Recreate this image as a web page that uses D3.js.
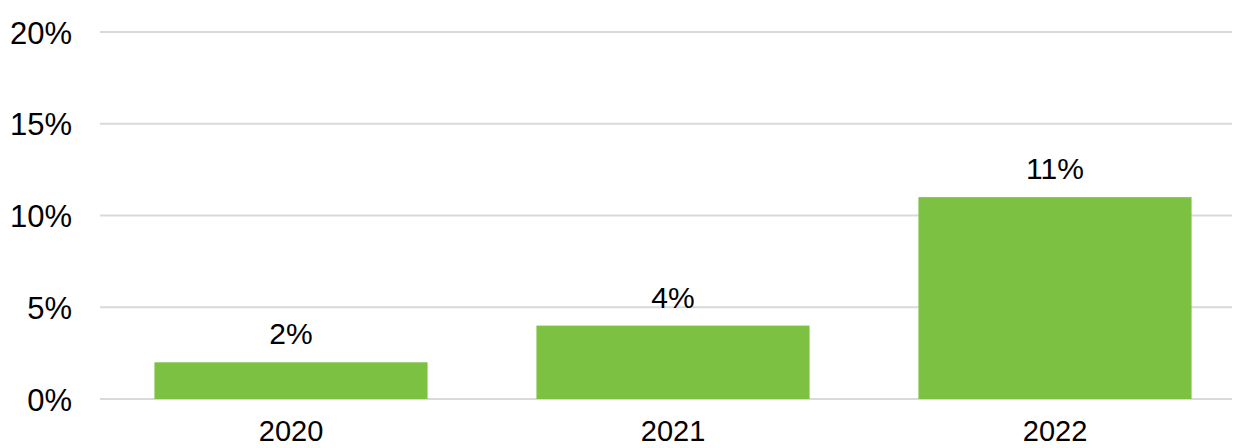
<!DOCTYPE html>
<html>
<head>
<meta charset="utf-8">
<script src="https://cdn.jsdelivr.net/npm/d3@7"></script>
<style>
  body { margin: 0; background: #fff; }
  text { font-family: "Liberation Sans", Arial, sans-serif; fill: #000; }
</style>
</head>
<body>
<div id="chart"></div>
<script>
// data
const years = ["2020", "2021", "2022"];
const values = [2, 4, 11];
const yTicks = [0, 5, 10, 15, 20];

const width = 1234, height = 448;
const svg = d3.select('#chart').append('svg')
  .attr('width', width)
  .attr('height', height);

const x = d3.scaleBand()
  .domain(years)
  .range([100, 1246])
  .paddingInner(0.285)
  .paddingOuter(0.1425);

const y = d3.scaleLinear()
  .domain([0, 20])
  .range([399, 32]);

// gridlines
svg.append('g')
  .selectAll('line')
  .data(yTicks)
  .enter()
  .append('line')
  .attr('x1', 100)
  .attr('x2', 1232)
  .attr('y1', d => y(d))
  .attr('y2', d => y(d))
  .attr('stroke', '#d9d9d9')
  .attr('stroke-width', 2);

// y axis labels
const yAxis = d3.axisLeft(y)
  .tickValues(yTicks)
  .tickFormat(d => d + '%')
  .tickSize(0)
  .tickPadding(0);
svg.append('g')
  .attr('transform', 'translate(72,0)')
  .call(yAxis)
  .call(g => g.select('.domain').remove())
  .selectAll('text')
  .attr('font-size', 31)
  .attr('fill', '#000')
  .attr('font-family', '"Liberation Sans", Arial, sans-serif')
  .attr('dy', '0.36em');

// bars
svg.append('g')
  .selectAll('rect')
  .data(values)
  .enter()
  .append('rect')
  .attr('x', (d, i) => x(years[i]))
  .attr('width', x.bandwidth())
  .attr('y', d => y(d))
  .attr('height', d => y(0) - y(d))
  .attr('fill', '#7cc142');

// value labels
svg.append('g')
  .selectAll('text')
  .data(values)
  .enter()
  .append('text')
  .attr('x', (d, i) => x(years[i]) + x.bandwidth() / 2)
  .attr('y', d => y(d) - 18)
  .attr('text-anchor', 'middle')
  .attr('font-size', 30)
  .text(d => d + '%');

// x axis labels
const xAxis = d3.axisBottom(x).tickSize(0).tickPadding(0);
svg.append('g')
  .attr('transform', 'translate(0,441)')
  .call(xAxis)
  .call(g => g.select('.domain').remove())
  .selectAll('text')
  .attr('font-size', 29)
  .attr('fill', '#000')
  .attr('font-family', '"Liberation Sans", Arial, sans-serif')
  .attr('dy', 0);
</script>
</body>
</html>
